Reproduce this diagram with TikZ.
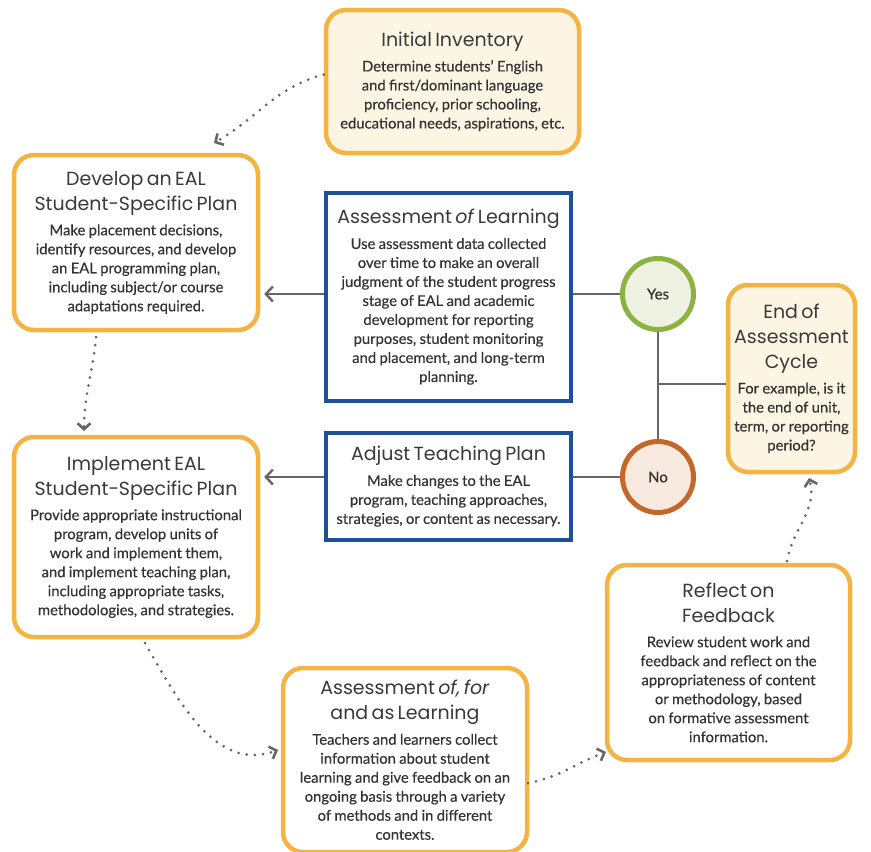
\documentclass[tikz,border=0pt]{standalone}
\usepackage{fontspec}
\setmainfont{Lato}
\newfontfamily\headfont{Poppins}
\newfontfamily\bodyfont{Lato}[FakeBold=0.35]
\usetikzlibrary{arrows.meta}

\definecolor{stageline}{HTML}{F3B443}
\definecolor{stagecream}{HTML}{FDF5E3}
\definecolor{judgeblue}{HTML}{1F4F96}
\definecolor{yesline}{HTML}{8CB23F}
\definecolor{yesfill}{HTML}{EFF2E3}
\definecolor{noline}{HTML}{C4672A}
\definecolor{nofill}{HTML}{F9EADF}
\definecolor{inktext}{HTML}{333333}
\definecolor{headtext}{HTML}{3A3A3A}
\definecolor{linkgray}{HTML}{666666}

\newcommand{\boxhead}[1]{{\fontsize{19}{25}\headfont\color{headtext}#1\par}\vspace{6pt}}
\newcommand{\boxtext}[1]{{\fontsize{14.8}{19}\bodyfont #1\par}}

\tikzset{
  stagebox/.style={draw=stageline, line width=4.5pt, rounded corners=20pt,
    fill=white, align=center, text=inktext, inner sep=2pt},
  judgebox/.style={draw=judgeblue, line width=4pt, fill=white,
    align=center, text=inktext, inner sep=2pt},
  choice/.style={circle, line width=5pt, minimum size=71pt, text=inktext,
    font=\fontsize{15}{18}\bodyfont},
  flowlink/.style={draw=linkgray, line width=2.6pt},
  linkarrow/.style={flowlink, -{Straight Barb[length=7pt, width=15pt, line width=2.4pt]}},
  dotlink/.style={draw=linkgray, line width=3pt, line cap=round,
    dash pattern=on 0pt off 8.2pt,
    -{Straight Barb[length=6pt, width=13pt, line width=2.6pt, line cap=butt]}},
}

\begin{document}
\begin{tikzpicture}[x=1pt, y=-1pt]
\useasboundingbox (0,0) rectangle (871,852);

% stage boxes
\node[stagebox, fill=stagecream, minimum width=253pt, minimum height=143pt, text width=247pt]
  (inv) at (452.5,81.5) {\boxhead{Initial Inventory}\boxtext{Determine students’ English\\and first/dominant language\\proficiency, prior schooling,\\educational needs, aspirations, etc.}};

\node[stagebox, minimum width=244pt, minimum height=175pt, text width=238pt]
  (dev) at (136,242.5) {\boxhead{Develop an EAL\\Student-Specific Plan}\boxtext{Make placement decisions,\\identify resources, and develop\\an EAL programming plan,\\including subject/or course\\adaptations required.}};

\node[stagebox, minimum width=244pt, minimum height=200pt, text width=238pt]
  (impl) at (136,537) {\boxhead{Implement EAL\\Student-Specific Plan}\boxtext{Provide appropriate instructional\\program, develop units of\\work and implement them,\\and implement teaching plan,\\including appropriate tasks,\\methodologies, and strategies.}};

\node[stagebox, minimum width=244pt, minimum height=184pt, text width=238pt]
  (afl) at (405,760) {\boxhead{Assessment \emph{of, for}\\and as Learning}\boxtext{Teachers and learners collect\\information about student\\learning and give feedback on an\\ongoing basis through a variety\\of methods and in different\\contexts.}};

\node[stagebox, minimum width=243pt, minimum height=195pt, text width=237pt]
  (refl) at (728.5,662.5) {\boxhead{Reflect on\\Feedback}\boxtext{Review student work and\\feedback and reflect on the\\appropriateness of content\\or methodology, based\\on formative assessment\\information.}};

\node[stagebox, fill=stagecream, minimum width=127pt, minimum height=187pt, text width=121pt]
  (endc) at (791.5,378.5) {\boxhead{End of\\Assessment\\Cycle}\boxtext{For example, is it\\the end of unit,\\term, or reporting\\period?}};

% judgement boxes
\node[judgebox, minimum width=245pt, minimum height=208pt, text width=240pt]
  (aol) at (448.5,297) {\boxhead{Assessment \emph{of} Learning}\boxtext{Use assessment data collected\\over time to make an overall\\judgment of the student progress\\stage of EAL and academic\\development for reporting\\purposes, student monitoring\\and placement, and long-term\\planning.}};

\node[judgebox, minimum width=245pt, minimum height=107pt, text width=240pt]
  (adj) at (448.5,486.5) {\boxhead{Adjust Teaching Plan}\boxtext{Make changes to the EAL\\program, teaching approaches,\\strategies, or content as necessary.}};

% decision circles
\node[choice, draw=yesline, fill=yesfill] (yes) at (658,294) {Yes};
\node[choice, draw=noline, fill=nofill] (no) at (658,477) {No};

% decision wiring
\coordinate (fork) at (658,384);
\draw[flowlink] (yes.south) -- (no.north);
\draw[flowlink] (fork) -- (fork -| endc.west);
\draw[flowlink] (yes.west) -- (yes.west -| aol.east);
\draw[flowlink] (no.west) -- (no.west -| adj.east);
\draw[linkarrow] (aol.west |- yes.west) -- ([xshift=4pt]dev.east |- yes.west);
\draw[linkarrow] (adj.west |- no.west) -- ([xshift=4pt]impl.east |- no.west);

% dotted cycle
\coordinate (invtip) at (214,143);
\coordinate (devtail) at (96,337);
\coordinate (devtip) at (84,431);
\coordinate (impltail) at (145,643);
\coordinate (impltip) at (278,750);
\coordinate (afltail) at (528,783);
\coordinate (afltip) at (606,752);
\coordinate (refltail) at (787,561);
\coordinate (refltip) at (809,478);

\draw[dotlink] ([yshift=7pt]inv.west) to[out=195, in=30] (invtip);
\draw[dotlink] (devtail) to[out=-95, in=90] (devtip);
\draw[dotlink] (impltail) to[out=-60, in=200] (impltip);
\draw[dotlink] (afltail) to[out=10, in=200] (afltip);
\draw[dotlink] (refltail) to[out=80, in=-75] (refltip);
\end{tikzpicture}
\end{document}
